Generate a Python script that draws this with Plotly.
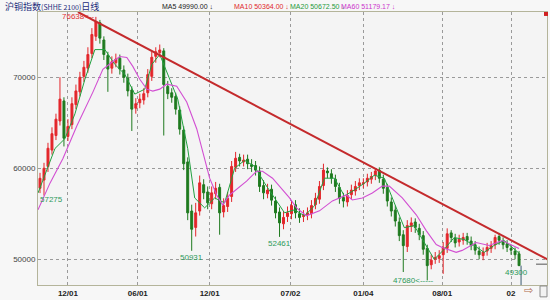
import plotly.graph_objects as go

# ---- data ----
opens = [57800, 58700, 60200, 62000, 63600, 65200, 67400, 63500, 64800, 67000,
         68400, 70100, 71000, 72600, 74500, 76000, 74100, 72400, 71000, 71600,
         72100, 70800, 69900, 68600, 66600, 67200, 67500, 68300, 70100, 72300,
         72700, 72900, 69000, 68300, 67900, 66400, 64200, 60700, 55300, 53500,
         55300, 58200, 57400, 56100, 57200, 57900, 55200, 55800, 56900, 60100,
         61200, 60700, 61000, 60400, 60300, 59700, 58100, 57200, 57700, 56400,
         55200, 53900, 54700, 55000, 56000, 55000, 54700, 54900, 55000, 56000,
         56600, 58100, 59700, 59400, 58800, 57900, 56800, 56300, 57100, 57500,
         58100, 58300, 58500, 58800, 59200, 59800, 58800, 57900, 56300, 55400,
         54100, 52700, 51400, 53600, 54100, 53400, 52600, 51200, 49400, 50000,
         50100, 50500, 51200, 52900, 52300, 51900, 52100, 52500, 52000, 51600,
         50900, 50400, 50900, 51200, 51600, 52500, 52000, 51700, 51200, 50900,
         50600]
highs = [59500, 60600, 62800, 64500, 66000, 70000, 67800, 65400, 67800, 69200,
         70600, 71800, 73300, 75400, 76638, 76300, 74500, 72800, 72300, 72600,
         72500, 71300, 70400, 69000, 67700, 68200, 68800, 70900, 72800, 73300,
         73600, 73200, 69600, 68800, 68300, 66800, 64600, 61200, 56000, 56200,
         59200, 58800, 58000, 58000, 58500, 58300, 56700, 57400, 60800, 61800,
         61600, 61500, 61500, 61000, 60800, 60200, 58700, 58300, 58200, 56900,
         55700, 55300, 55800, 56500, 56500, 55600, 55400, 55700, 56500, 57300,
         58600, 60500, 60100, 59900, 59300, 58400, 57300, 57600, 58200, 58600,
         58900, 58900, 59400, 59600, 60000, 60100, 59300, 58300, 56800, 55900,
         54600, 53200, 54300, 54600, 54500, 53900, 53100, 51600, 50500, 50800,
         51000, 51900, 53400, 53200, 52800, 52700, 52900, 52900, 52500, 52000,
         51400, 51300, 51800, 52000, 52700, 52900, 52400, 52100, 51600, 51300,
         50900]
lows = [57275, 57000, 59600, 61500, 63100, 64700, 62400, 63000, 64300, 66500,
        67900, 69500, 70500, 72100, 74000, 73700, 71900, 68400, 70400, 71100,
        70300, 69400, 67900, 64100, 66000, 66600, 67000, 67800, 69600, 71600,
        72200, 63600, 67600, 67200, 65900, 63700, 59800, 54300, 50931, 52500,
        54800, 56600, 55500, 55500, 56600, 52700, 54600, 55200, 56300, 59600,
        60200, 60200, 59900, 59600, 59200, 57400, 56600, 56700, 55900, 54500,
        52461, 53300, 54100, 54400, 54500, 54000, 54100, 54300, 54500, 55500,
        56100, 57600, 58900, 58300, 57400, 56100, 55700, 55800, 56600, 57000,
        57600, 57800, 58000, 58300, 58700, 58400, 57200, 55800, 54700, 53600,
        52000, 48600, 50800, 53000, 52900, 52100, 50500, 47680, 48900, 49500,
        49600, 48400, 50700, 51900, 51300, 51400, 51600, 51600, 51000, 50500,
        50000, 49900, 50400, 50700, 51100, 51600, 51100, 50800, 50500, 50000,
        49300]
closes = [58900, 60000, 62200, 63800, 65400, 67600, 63300, 64600, 67100, 68500,
          70000, 71100, 72500, 74700, 76100, 74300, 72500, 70900, 71700, 72000,
          70900, 70000, 68500, 66500, 67100, 67600, 68200, 70300, 72200, 72800,
          73000, 69200, 68200, 67800, 66500, 64300, 60500, 55100, 53300, 55100,
          58400, 57300, 56200, 57300, 57800, 55100, 55900, 56700, 60200, 61100,
          60800, 60900, 60500, 60200, 59800, 58000, 57300, 57600, 56500, 55100,
          54000, 54600, 55100, 55900, 55100, 54600, 54800, 55100, 55900, 56700,
          58000, 59800, 59500, 58900, 58000, 56700, 56400, 57000, 57600, 58000,
          58400, 58400, 58900, 59100, 59700, 58900, 57800, 56400, 55300, 54200,
          52600, 51500, 53700, 54000, 53500, 52700, 51100, 49300, 49900, 50200,
          50400, 51300, 52800, 52400, 51800, 52200, 52400, 52100, 51500, 51000,
          50500, 50800, 51300, 51500, 52400, 52100, 51600, 51300, 51000, 50500,
          49300]
idx = list(range(len(closes)))

ma20_x = [-0.5, 3.75, 6.25, 8.75, 11.25, 13.75, 16.25, 18.75, 21.25, 23.75,
          26.25, 28, 30, 32, 34.5, 37, 38.75, 41.25, 43.75, 46.25,
          48.75, 51.25, 53.75, 56.25, 58.75, 61.25, 63.75, 66.25, 68.75, 71.25,
          73.75, 76.25, 78.75, 81.25, 83.75, 86.25, 88.75, 91.25, 93.75, 96.25,
          98.75, 101.25, 103.75, 106.25, 108.75, 111.25, 113.75, 116.25, 118.75, 120]
ma20_y = [57283, 62174, 63261, 65978, 69783, 73043, 73043, 71413, 70326, 68152,
          68696, 71413, 72500, 70326, 67609, 62174, 56739, 55652, 56739, 56196,
          60000, 60870, 60217, 58370, 56739, 55109, 55435, 54783, 55870, 58913,
          58913, 56957, 57609, 58370, 59239, 58913, 56196, 53478, 53696, 51848,
          50000, 51087, 52391, 52174, 51522, 50761, 51522, 52065, 51087, 50672]

ma60_x = [-0.5, 2.5, 5.75, 9.25, 13.25, 15.75, 18.25, 20, 21.75, 23.25,
          25, 26.75, 28.25, 30, 31.75, 34.25, 36.75, 39.25, 42.5, 44.25,
          45.75, 47.5, 51.75, 54.25, 55.75, 58.25, 62.5, 64.25, 66.75, 70,
          73.25, 76.75, 78.25, 80.75, 83.25, 85.75, 87.5, 90.75, 94.25, 96.75,
          99.25, 100.75, 104.25, 105.75, 109.25, 112.5, 115.75, 119.25, 120]
ma60_y = [55435, 58370, 61087, 64674, 68370, 70870, 71739, 72283, 72174, 71196,
          69783, 68696, 68478, 68696, 69239, 69022, 67283, 64348, 58913, 57065,
          55978, 57065, 58587, 59674, 59674, 58913, 56739, 55652, 54783, 55326,
          56413, 57065, 56522, 56739, 57283, 58043, 58043, 56739, 54891, 53152,
          51630, 51304, 50761, 50978, 51848, 51522, 52065, 51304, 51179]

trend_x = [9.5, 127.5]
trend_y = [77174, 49891]

tick_vals = [7, 24.5, 42.5, 62.75, 81, 100.75, 118]
tick_text = ['12/01', '06/01', '12/01', '07/02', '01/04', '08/01', '02']
y_ticks = [50000, 60000, 70000]
x_range = [-0.5, 127]
y_range = [47174, 77174]

legend_items = [("MA5 49990.00 ↓", "#222222", 160),
                ("MA10 50364.00 ↓", "#e0282c", 232),
                ("MA20 50672.50 ↓", "#1f9a3a", 288),
                ("MA60 51179.17 ↓", "#cc33cc", 340)]

RED = "#e3262b"
GREEN = "#1f7a1f"
LABEL_GREEN = "#2e9a5a"

fig = go.Figure()
fig.add_trace(go.Candlestick(
    x=idx, open=opens, high=highs, low=lows, close=closes,
    increasing=dict(line=dict(color=RED, width=1), fillcolor=RED),
    decreasing=dict(line=dict(color=GREEN, width=1), fillcolor=GREEN),
    whiskerwidth=0, showlegend=False, hoverinfo="skip"))
fig.add_trace(go.Scatter(x=ma20_x, y=ma20_y, mode="lines",
                         line=dict(color="#22a040", width=1), showlegend=False))
fig.add_trace(go.Scatter(x=ma60_x, y=ma60_y, mode="lines",
                         line=dict(color="#d24fd2", width=1.1), showlegend=False))
fig.add_trace(go.Scatter(x=trend_x, y=trend_y, mode="lines",
                         line=dict(color="#c42a2c", width=2), showlegend=False))

# last-bar cursor line
fig.add_shape(type="line", xref="x", yref="y", x0=idx[-1] + 0.5, x1=idx[-1] + 0.5,
              y0=y_range[0], y1=closes[-1], line=dict(color="#3a5a70", width=1))

W, T, B, L = 510, 12, 288, 38
def px(xp):
    return (xp - L) / W
def py(yp):
    return (B - yp) / (B - T)

ann = []
ann.append(dict(text="沪铜指数<span style='font-size:7px'>(SHHE 2100)</span>日线",
                x=px(3), y=py(6), xref="paper", yref="paper",
                xanchor="left", yanchor="middle", showarrow=False,
                font=dict(family="Noto Sans CJK SC", size=9, color="#1c2a7a")))
for txt, col, xp in legend_items:
    ann.append(dict(text=txt, x=px(xp), y=py(6), xref="paper", yref="paper",
                    xanchor="left", yanchor="middle", showarrow=False,
                    font=dict(family="Liberation Sans", size=7, color=col)))

val_font = dict(family="Liberation Sans", size=8)
ann.append(dict(text="76638&lt;--", x=5, y=highs[14], xanchor="left", yanchor="middle",
                showarrow=False, font=dict(**val_font, color="#e03030")))
ann.append(dict(text="57275", x=-0.45, y=lows[0], xanchor="left", yanchor="top",
                showarrow=False, font=dict(**val_font, color=LABEL_GREEN)))
ann.append(dict(text="50931", x=38, y=lows[38], xanchor="center", yanchor="top",
                showarrow=False, font=dict(**val_font, color=LABEL_GREEN)))
ann.append(dict(text="52461", x=60, y=lows[60], xanchor="center", yanchor="top",
                showarrow=False, font=dict(**val_font, color=LABEL_GREEN)))
ann.append(dict(text="47680&lt;-----", x=88, y=lows[97], xanchor="left", yanchor="middle",
                showarrow=False, font=dict(**val_font, color=LABEL_GREEN)))
ann.append(dict(text="49300", x=119.3, y=closes[-1], xanchor="center", yanchor="top",
                showarrow=False, font=dict(**val_font, color=LABEL_GREEN)))
ann.append(dict(text="⇨", x=px(529), y=py(294), xref="paper", yref="paper",
                xanchor="center", yanchor="middle", showarrow=False,
                font=dict(family="DejaVu Sans", size=11, color="#b06a4a")))

shapes = [
    dict(type="rect", xref="paper", yref="paper", x0=px(518), x1=px(541), y0=py(300), y1=py(289),
         fillcolor="#f2f2f2", line=dict(color="#8a8a8a", width=1), layer="above"),
    dict(type="rect", xref="paper", yref="paper", x0=px(541), x1=px(548), y0=py(300), y1=py(289),
         fillcolor="#f2f2f2", line=dict(color="#8a8a8a", width=1), layer="above"),
    dict(type="rect", xref="paper", yref="paper", x0=px(545), x1=px(549), y0=py(16), y1=py(12),
         fillcolor="#d02020", line=dict(width=0), layer="above"),
    dict(type="line", xref="paper", yref="paper", x0=px(537), x1=px(548), y0=py(267), y1=py(267),
         line=dict(color="#8a8a8a", width=1.5), layer="above"),
]

fig.update_layout(
    width=550, height=300,
    margin=dict(l=L, r=550 - L - W, t=T, b=300 - B, pad=0),
    paper_bgcolor="#f7f7f7", plot_bgcolor="#f4f4f4",
    annotations=ann, shapes=shapes, showlegend=False,
    xaxis=dict(range=x_range, tickvals=tick_vals, ticktext=tick_text,
               rangeslider=dict(visible=False), showgrid=True,
               gridcolor="#9a9a9a", griddash="dot", gridwidth=1,
               showline=True, linecolor="#b4b49a", linewidth=1, mirror=True,
               ticks="", zeroline=False,
               tickfont=dict(family="Liberation Sans", size=8, color="#222222", weight="bold")),
    yaxis=dict(range=y_range, tickvals=y_ticks, showgrid=True,
               gridcolor="#9a9a9a", griddash="dot", gridwidth=1,
               showline=True, linecolor="#b4b49a", linewidth=1, mirror=True,
               ticks="", zeroline=False, tickformat="d",
               tickfont=dict(family="Liberation Sans", size=8, color="#444444")),
)

fig.write_html("out.html")
